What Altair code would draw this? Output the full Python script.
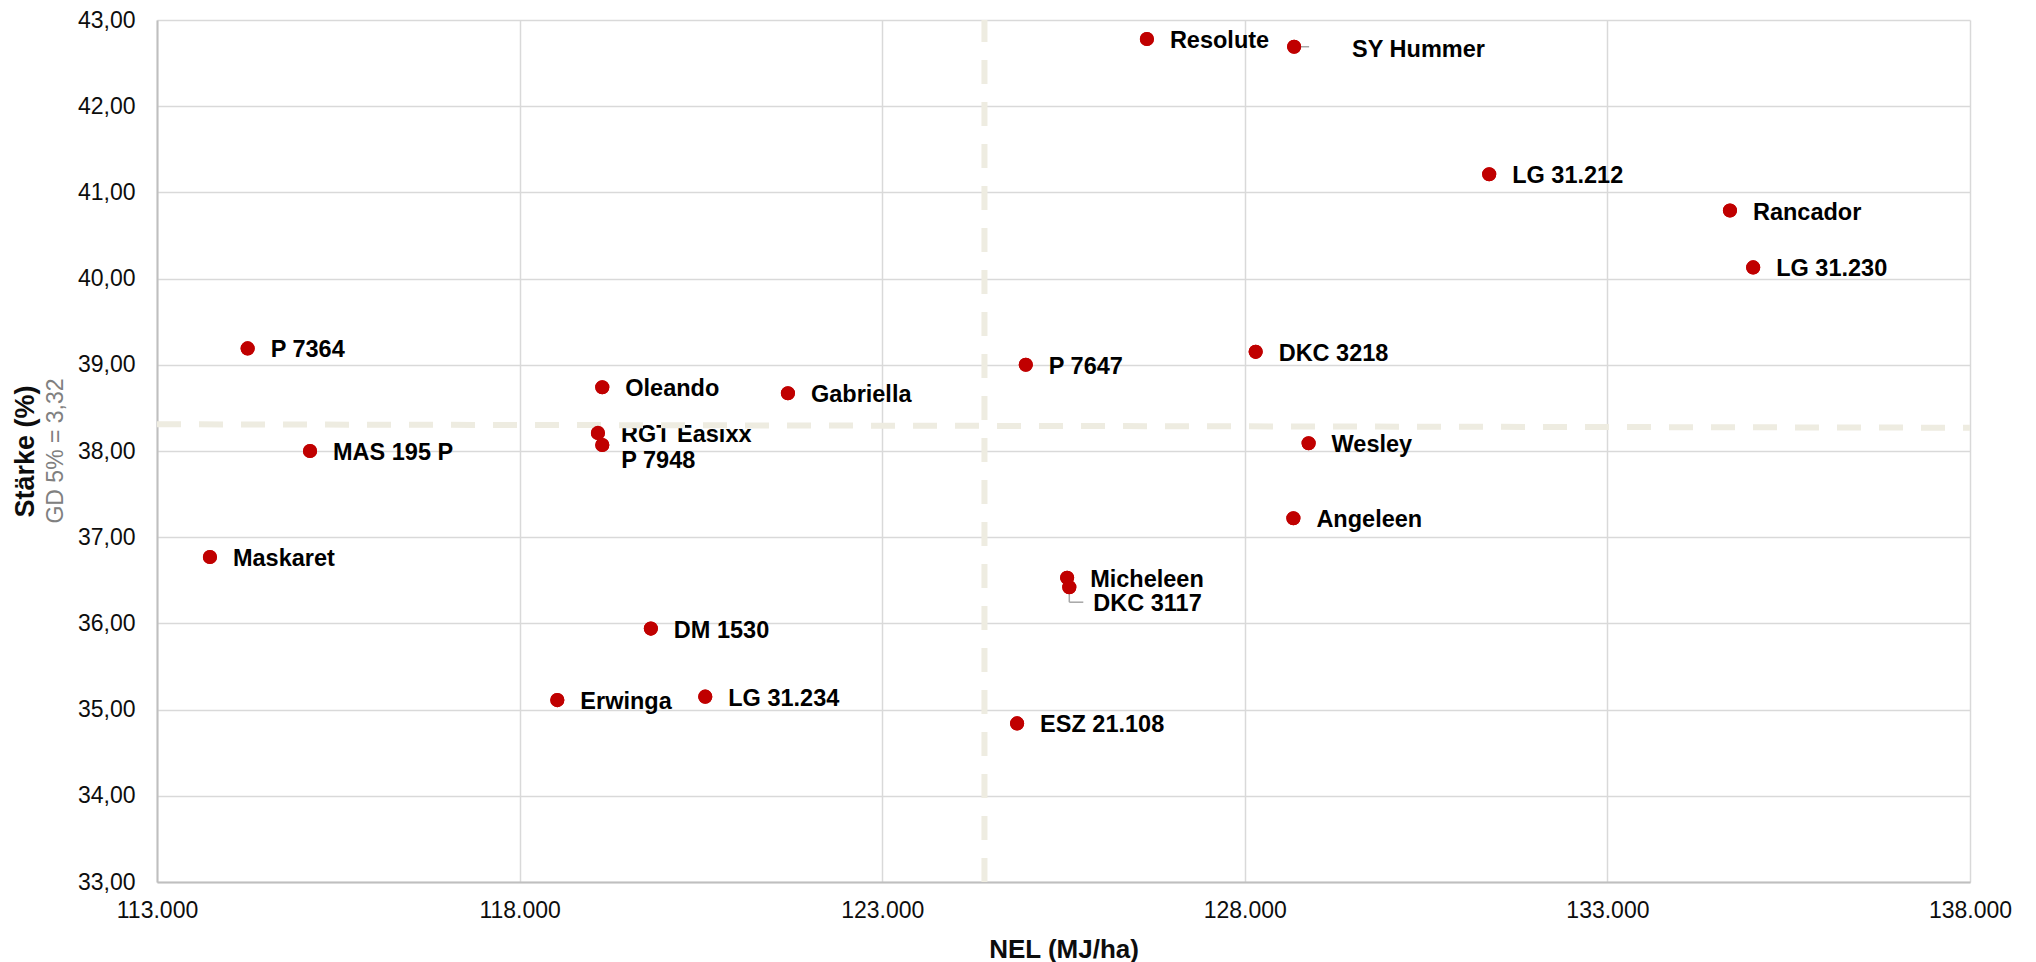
import altair as alt
import pandas as pd

# ---- data ----
names = ["Resolute", "SY Hummer", "LG 31.212", "Rancador", "LG 31.230", "P 7364",
         "DKC 3218", "P 7647", "Oleando", "Gabriella", "RGT Easixx", "P 7948",
         "MAS 195 P", "Wesley", "Angeleen", "Maskaret", "Micheleen", "DKC 3117",
         "DM 1530", "Erwinga", "LG 31.234", "ESZ 21.108"]
nel = [126650, 128680, 131370, 134690, 135010, 114250,
       128150, 124980, 119140, 121700, 119080, 119140,
       115110, 128880, 128670, 113730, 125550, 125580,
       119810, 118520, 120560, 124860]
staerke = [42.78, 42.69, 41.21, 40.79, 40.13, 39.19,
           39.15, 39.00, 38.74, 38.67, 38.21, 38.07,
           38.00, 38.09, 37.22, 36.77, 36.53, 36.42,
           35.94, 35.11, 35.15, 34.84]

# reference (mean) lines
vline_nel = [124410, 124410]
vline_staerke = [33.0, 43.0]
hline_nel = [113000, 138000]
hline_staerke = [38.31, 38.27]

x_ticks = [113000, 118000, 123000, 128000, 133000, 138000]
y_ticks = [33, 34, 35, 36, 37, 38, 39, 40, 41, 42, 43]

df = pd.DataFrame({"name": names, "nel": nel, "st": staerke})
vdf = pd.DataFrame({"x": [vline_nel[0]], "x2": [vline_nel[1]],
                    "y": [vline_staerke[0]], "y2": [vline_staerke[1]]})
hdf = pd.DataFrame({"x": [hline_nel[0]], "x2": [hline_nel[1]],
                    "y": [hline_staerke[0]], "y2": [hline_staerke[1]]})

W, H = 1813, 862
FONT = "Liberation Sans"

xs = alt.Scale(domain=[113000, 138000], nice=False, zero=False)
ys = alt.Scale(domain=[33, 43], nice=False, zero=False)

X = alt.X("nel:Q", scale=xs, axis=alt.Axis(
    values=x_ticks, title="NEL (MJ/ha)",
    labelExpr="replace(format(datum.value, ','), ',', '.')",
    labelFont=FONT, labelFontSize=23, labelColor="#0d0d0d", labelPadding=17,
    labelFlush=False, labelOverlap=False,
    tickSize=0, domainColor="#BFBFBF", domainWidth=2,
    grid=True, gridColor="#D9D9D9", gridWidth=1.5,
    titleFont=FONT, titleFontSize=26, titleFontWeight="bold", titleColor="#0d0d0d",
    titleY=67, titleBaseline="middle"))
Y = alt.Y("st:Q", scale=ys, axis=alt.Axis(
    values=y_ticks, title="Stärke (%)",
    labelExpr="replace(format(datum.value, '.2f'), '.', ',')",
    labelFont=FONT, labelFontSize=23, labelColor="#0d0d0d", labelPadding=22,
    labelFlush=False, labelOverlap=False,
    tickSize=0, domainColor="#BFBFBF", domainWidth=2,
    grid=True, gridColor="#D9D9D9", gridWidth=1.5,
    titleFont=FONT, titleFontSize=27, titleFontWeight="bold", titleColor="#0d0d0d",
    titleX=-132, titleY=H / 2, titleBaseline="middle", titleAlign="center"))

base = alt.Chart(df)
points = base.mark_circle(size=200, color="#C00000", opacity=1).encode(x=X, y=Y)

lab_style = dict(font=FONT, fontSize=23.5, fontWeight="bold", color="#000000",
                 align="left", baseline="middle")
special = ["SY Hummer", "P 7948", "DKC 3117"]
labels_default = base.mark_text(dx=23, dy=2, **lab_style).encode(
    x="nel:Q", y="st:Q", text="name:N").transform_filter(
    ~alt.FieldOneOfPredicate(field="name", oneOf=special))
labels_sy = base.mark_text(dx=58, dy=3, **lab_style).encode(
    x="nel:Q", y="st:Q", text="name:N").transform_filter(
    alt.FieldEqualPredicate(field="name", equal="SY Hummer"))
labels_p = base.mark_text(dx=19, dy=16, **lab_style).encode(
    x="nel:Q", y="st:Q", text="name:N").transform_filter(
    alt.FieldEqualPredicate(field="name", equal="P 7948"))
labels_dkc = base.mark_text(dx=24, dy=17, **lab_style).encode(
    x="nel:Q", y="st:Q", text="name:N").transform_filter(
    alt.FieldEqualPredicate(field="name", equal="DKC 3117"))

lead = dict(color="#A6A6A6", strokeWidth=1.5)
lead_sy = base.mark_rule(x2Offset=15, **lead).encode(
    x="nel:Q", x2="nel:Q", y="st:Q", y2="st:Q").transform_filter(
    alt.FieldEqualPredicate(field="name", equal="SY Hummer"))
lead_dkc_v = base.mark_rule(y2Offset=15, **lead).encode(
    x="nel:Q", x2="nel:Q", y="st:Q", y2="st:Q").transform_filter(
    alt.FieldEqualPredicate(field="name", equal="DKC 3117"))
lead_dkc_h = base.mark_rule(yOffset=15, y2Offset=15, x2Offset=14, **lead).encode(
    x="nel:Q", x2="nel:Q", y="st:Q", y2="st:Q").transform_filter(
    alt.FieldEqualPredicate(field="name", equal="DKC 3117"))

dash = dict(color="#EEECE1", strokeWidth=6, strokeDash=[24, 18])
vrule = alt.Chart(vdf).mark_rule(**dash).encode(
    x=alt.X("x:Q", scale=xs), x2="x2:Q", y=alt.Y("y:Q", scale=ys), y2="y2:Q")
hrule = alt.Chart(hdf).mark_rule(**dash).encode(
    x=alt.X("x:Q", scale=xs), x2="x2:Q", y=alt.Y("y:Q", scale=ys), y2="y2:Q")

gd = alt.Chart(pd.DataFrame({"t": ["GD 5% = 3,32"]})).mark_text(
    font=FONT, fontSize=23, color="#808080", angle=270,
    align="center", baseline="middle").encode(
    x=alt.value(-101), y=alt.value(H / 2), text="t:N")

chart = alt.layer(
    points, lead_sy, lead_dkc_v, lead_dkc_h,
    labels_default, labels_sy, labels_p, labels_dkc,
    vrule, hrule, points, gd
).properties(
    width=W, height=H,
    autosize=alt.AutoSizeParams(type="none"),
    padding={"left": 149, "top": 12, "right": 50, "bottom": 80},
    background="white"
).configure_view(stroke=None)

chart.save("out.html", embed_options={"renderer": "svg", "actions": False})
